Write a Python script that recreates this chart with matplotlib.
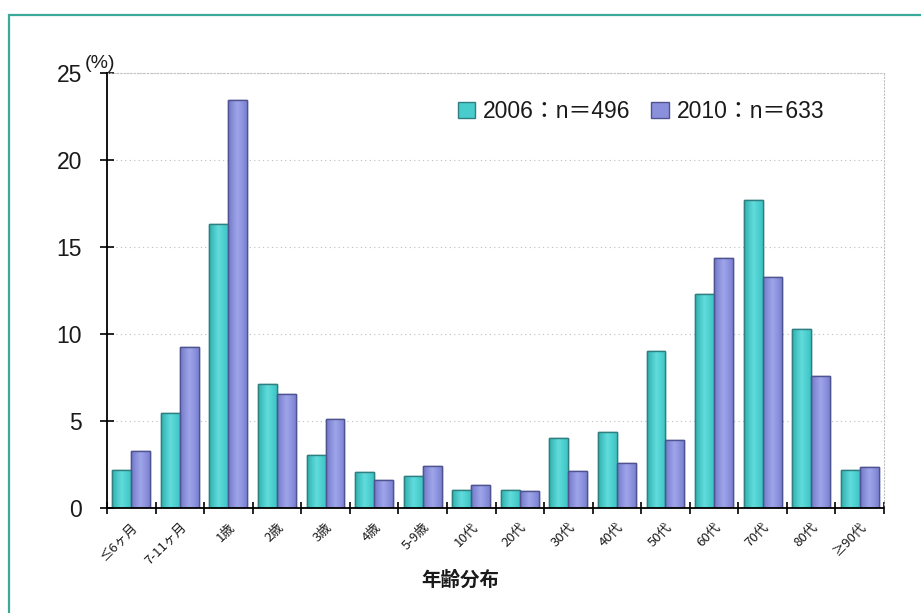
import matplotlib
matplotlib.use("Agg")
import matplotlib.pyplot as plt
import numpy as np
from matplotlib.patches import Rectangle
from matplotlib.font_manager import FontProperties
from matplotlib.colors import LinearSegmentedColormap

categories = ["≤6ヶ月", "7-11ヶ月", "1歳", "2歳", "3歳", "4歳", "5-9歳", "10代",
              "20代", "30代", "40代", "50代", "60代", "70代", "80代", "≥90代"]
v2006 = [2.2, 5.45, 16.35, 7.1, 3.05, 2.05, 1.85, 1.05, 1.05, 4.05, 4.35, 9.05, 12.3, 17.7, 10.3, 2.2]
v2010 = [3.3, 9.25, 23.45, 6.55, 5.1, 1.6, 2.4, 1.3, 1.0, 2.15, 2.6, 3.9, 14.35, 13.25, 7.6, 2.35]
yticks = [0, 5, 10, 15, 20, 25]
label2006 = "2006：n＝496"
label2010 = "2010：n＝633"
xlabel = "年齢分布"

jp = ["Noto Sans CJK JP", "DejaVu Sans"]
num = ["Liberation Sans", "Noto Sans CJK JP", "DejaVu Sans"]

def numfont(size):
    return FontProperties(family=num, size=size, stretch="normal", weight="normal")

fig = plt.figure(figsize=(9.21, 6.13), dpi=100)
fig.patches.append(Rectangle((9/921, -0.05), 1.1, 1 - 15/613 + 0.05, transform=fig.transFigure,
                             fill=False, edgecolor="#3aaa9a", linewidth=1.6))

ax = fig.add_axes([107/921, 1 - 508/613, (884-107)/921, (508-73)/613])
x = np.arange(len(categories))
w = 0.39
b1 = ax.bar(x - w/2, v2006, w, color="#48cccc", edgecolor="#2f7f80", linewidth=1.0, label=label2006, zorder=3)
b2 = ax.bar(x + w/2, v2010, w, color="#8b90dc", edgecolor="#4f5490", linewidth=1.0, label=label2010, zorder=3)

# subtle cylindrical shading inside each bar
cm1 = LinearSegmentedColormap.from_list("c1", ["#2fb0b0", "#62dcdc", "#3cc4c4"])
cm2 = LinearSegmentedColormap.from_list("c2", ["#7278c8", "#a0a6ea", "#7c82d2"])
grad = np.linspace(0, 1, 64).reshape(1, -1)
for bars, cm in ((b1, cm1), (b2, cm2)):
    for p in bars:
        x0, y0 = p.get_x(), p.get_y()
        im = ax.imshow(grad, cmap=cm, aspect="auto", extent=(x0, x0 + p.get_width(), y0, y0 + p.get_height()),
                       zorder=3.1, interpolation="bicubic")
        im.set_clip_path(p)
        edge = Rectangle((x0, y0), p.get_width(), p.get_height(), fill=False,
                         edgecolor=p.get_edgecolor(), linewidth=1.0, zorder=3.2)
        ax.add_patch(edge)

ax.set_xlim(-0.5, len(categories) - 0.5)
ax.set_ylim(0, 25)
ax.set_yticks(yticks)
ax.set_yticklabels([str(t) for t in yticks], fontproperties=numfont(16.5), color="#1a1a1a")
ax.yaxis.grid(True, color="#bdbdbd", linestyle=(0, (1, 3)), linewidth=0.8, zorder=0)
ax.tick_params(axis="y", direction="inout", length=10, width=1.2, pad=13)

ax.set_xticks(x)
ax.set_xticklabels(categories, rotation=45, ha="right", rotation_mode="anchor", fontsize=9.5, family=jp,
                   color="#1a1a1a")
ax.tick_params(axis="x", which="major", length=0, pad=9)
ax.set_xticks(np.arange(-0.5, len(categories) + 0.5, 1), minor=True)
ax.tick_params(axis="x", which="minor", direction="inout", length=8, width=1.2)

for s in ["top", "right"]:
    ax.spines[s].set_color("#c0c0c0")
    ax.spines[s].set_linestyle((0, (1, 2)))
    ax.spines[s].set_linewidth(0.8)
for s in ["left", "bottom"]:
    ax.spines[s].set_linewidth(1.3)
    ax.spines[s].set_zorder(4)

ax.set_xlabel(xlabel, fontsize=14, fontweight="bold", family=jp, color="#1a1a1a")
ax.xaxis.set_label_coords((460-107)/777, -0.145)

ax.annotate("(%)", xy=(0, 25), xycoords=("axes fraction", "data"), xytext=(-7, 1),
            textcoords="offset pixels", fontproperties=numfont(14), ha="center", va="bottom",
            color="#1a1a1a")

leg = ax.legend(loc="upper left", bbox_to_anchor=((458-107)/777, (508-100)/435), ncol=2, frameon=False,
                prop=numfont(16.5), handlelength=0.75, handleheight=0.75,
                handletextpad=0.35, columnspacing=0.9, borderpad=0, borderaxespad=0)
for t in leg.get_texts():
    t.set_color("#1a1a1a")

fig.savefig("out.png", dpi=100)
